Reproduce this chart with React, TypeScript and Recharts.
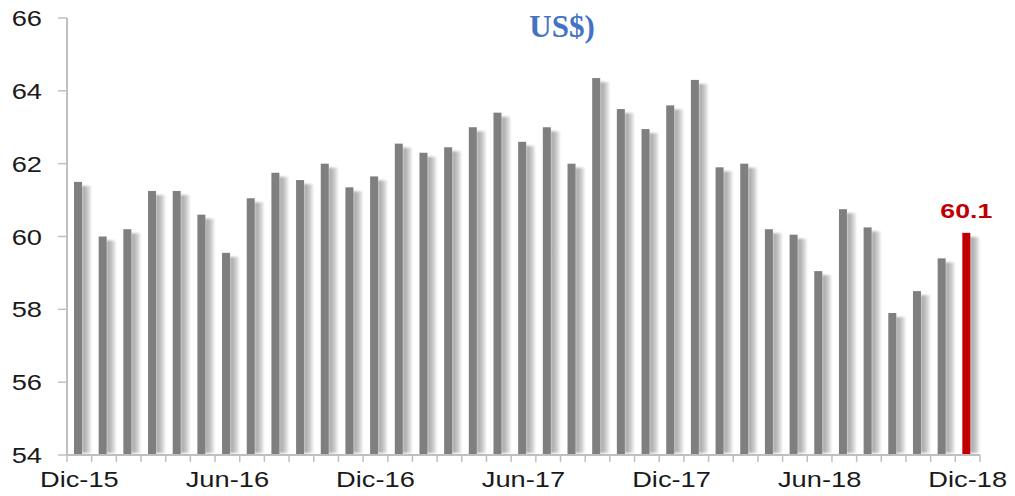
import { BarChart, Bar, XAxis, YAxis, LabelList } from 'recharts';

const MONTHS = [
  'Dic-15', 'Ene-16', 'Feb-16', 'Mar-16', 'Abr-16', 'May-16', 'Jun-16',
  'Jul-16', 'Ago-16', 'Sep-16', 'Oct-16', 'Nov-16', 'Dic-16',
  'Ene-17', 'Feb-17', 'Mar-17', 'Abr-17', 'May-17', 'Jun-17',
  'Jul-17', 'Ago-17', 'Sep-17', 'Oct-17', 'Nov-17', 'Dic-17',
  'Ene-18', 'Feb-18', 'Mar-18', 'Abr-18', 'May-18', 'Jun-18',
  'Jul-18', 'Ago-18', 'Sep-18', 'Oct-18', 'Nov-18', 'Dic-18',
];

const VALUES = [
  61.5, 60.0, 60.2, 61.25, 61.25, 60.6, 59.55,
  61.05, 61.75, 61.55, 62.0, 61.35, 61.65,
  62.55, 62.3, 62.45, 63.0, 63.4, 62.6,
  63.0, 62.0, 64.35, 63.5, 62.95, 63.6,
  64.3, 61.9, 62.0, 60.2, 60.05, 59.05,
  60.75, 60.25, 57.9, 58.5, 59.4, 60.1,
];

const Y_TICKS = [54, 56, 58, 60, 62, 64, 66];

const data = MONTHS.map((m, i) => ({ month: m, value: VALUES[i] }));
const LAST = data.length - 1;

const AXIS_GRAY = '#bfbfbf';
const BAR_GRAY = '#7f7f7f';
const RED = '#c00000';
const FONT = '"Liberation Sans", Arial, sans-serif';

function BarShape(props: any) {
  const { x, y, width, height, index } = props;
  const cx = x + width / 2;
  const bottom = y + height;
  const shTop = y + 4;
  return (
    <g>
      <rect
        x={cx + 3}
        y={shTop}
        width={9}
        height={Math.max(0, bottom - shTop - 2)}
        fill="url(#shadowGrad)"
        filter="url(#soft)"
      />
      <rect
        x={cx - 5}
        y={y}
        width={8}
        height={height}
        fill={index === LAST ? RED : BAR_GRAY}
      />
    </g>
  );
}

function XTick(props: any) {
  const { x, y, payload, index } = props;
  const half = 24.68 / 2;
  return (
    <g>
      <line x1={x - half} y1={y} x2={x - half} y2={y + 7} stroke={AXIS_GRAY} strokeWidth={1.5} />
      {index === LAST && (
        <line x1={x + half} y1={y} x2={x + half} y2={y + 7} stroke={AXIS_GRAY} strokeWidth={1.5} />
      )}
      {index % 6 === 0 && (
        <text
          transform={`translate(${x},${y + 32}) scale(1.24,1)`}
          textAnchor="middle"
          fontFamily={FONT}
          fontSize={22}
          fill="#1a1a1a"
        >
          {payload.value}
        </text>
      )}
    </g>
  );
}

function YTick(props: any) {
  const { x, y, payload } = props;
  return (
    <text
      transform={`translate(${x},${y + 8}) scale(1.24,1)`}
      textAnchor="end"
      fontFamily={FONT}
      fontSize={22}
      fill="#1a1a1a"
    >
      {payload.value}
    </text>
  );
}

function LastLabel(props: any) {
  const { x, y, width, index } = props;
  if (index !== LAST) return null;
  const cx = x + width / 2 - 1;
  return (
    <text
      transform={`translate(${cx},${y - 15}) scale(1.27,1)`}
      textAnchor="middle"
      fontFamily={FONT}
      fontWeight="bold"
      fontSize={21}
      fill={RED}
    >
      60.1
    </text>
  );
}

export default function App() {
  return (
    <div style={{ position: 'absolute', left: 0, top: 0, width: 1015, height: 496, background: '#fff' }}>
      <BarChart
        width={1015}
        height={496}
        data={data}
        margin={{ top: 18, right: 35, bottom: 0, left: 0 }}
        barCategoryGap={0}
      >
        <defs>
          <linearGradient id="shadowGrad" x1="0" y1="0" x2="1" y2="0">
            <stop offset="0%" stopColor="#9e9e9e" />
            <stop offset="55%" stopColor="#c4c4c4" />
            <stop offset="100%" stopColor="#ececec" />
          </linearGradient>
          <filter id="soft" x="-50%" y="-20%" width="200%" height="140%">
            <feGaussianBlur stdDeviation="1.3" />
          </filter>
        </defs>
        <text
          x={562}
          y={37}
          textAnchor="middle"
          fontFamily='"Liberation Serif", "Times New Roman", serif'
          fontWeight="bold"
          fontSize={31}
          fill="#4472c4"
        >
          US$)
        </text>
        <XAxis
          dataKey="month"
          interval={0}
          tickLine={false}
          tickSize={0}
          tickMargin={0}
          height={41}
          axisLine={{ stroke: AXIS_GRAY, strokeWidth: 2 }}
          tick={<XTick />}
        />
        <YAxis
          domain={[54, 66]}
          ticks={Y_TICKS}
          width={67}
          tickSize={9}
          tickMargin={16}
          axisLine={{ stroke: AXIS_GRAY, strokeWidth: 2 }}
          tickLine={{ stroke: AXIS_GRAY, strokeWidth: 1.5 }}
          tick={<YTick />}
        />
        <Bar dataKey="value" barSize={8} shape={<BarShape />} isAnimationActive={false}>
          <LabelList dataKey="value" content={<LastLabel />} />
        </Bar>
      </BarChart>
    </div>
  );
}
